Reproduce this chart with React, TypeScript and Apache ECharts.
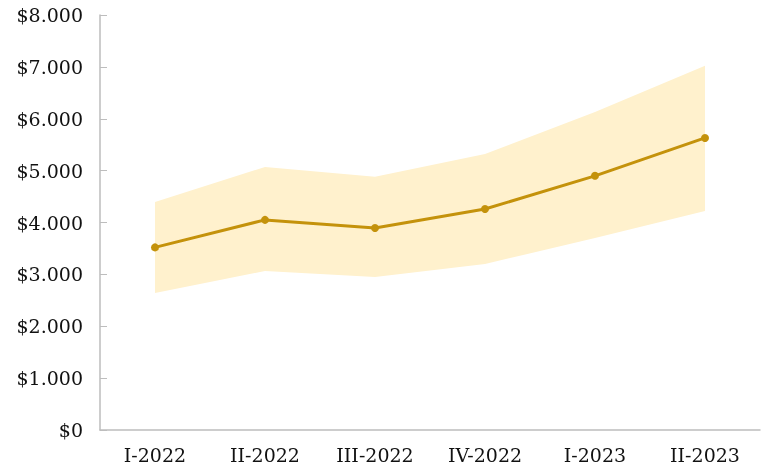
import React, { useEffect, useRef } from "react";
import * as echarts from "echarts";

const categories = ["I-2022", "II-2022", "III-2022", "IV-2022", "I-2023", "II-2023"];
const forecast = [3520, 4050, 3895, 4260, 4900, 5630];
const lowerBound = [2640, 3065, 2950, 3200, 3700, 4220];
const upperBound = [4395, 5070, 4880, 5320, 6130, 7020];

export default function App() {
  const ref = useRef<HTMLDivElement>(null);
  useEffect(() => {
    if (!ref.current) return;
    const chart = echarts.init(ref.current, null, { renderer: "svg" });
    const font = "DejaVu Serif";
    chart.setOption({
      animation: false,
      grid: { left: 100, right: 11, top: 15, bottom: 43 },
      xAxis: {
        type: "category",
        data: categories,
        boundaryGap: true,
        axisLine: { lineStyle: { color: "#bdbdbd", width: 1.5 } },
        axisTick: { inside: true, length: 8, lineStyle: { color: "#bdbdbd" } },
        axisLabel: { color: "#111", fontFamily: font, fontSize: 19, margin: 15 },
      },
      yAxis: {
        type: "value",
        min: 0,
        max: 8000,
        interval: 1000,
        splitLine: { show: false },
        axisLine: { show: true, lineStyle: { color: "#bdbdbd", width: 1.5 } },
        axisTick: { show: true, inside: true, length: 7, lineStyle: { color: "#bdbdbd" } },
        axisLabel: {
          color: "#111",
          fontFamily: font,
          fontSize: 19,
          margin: 17,
          formatter: (v: number) => "$" + (v === 0 ? "0" : (v / 1000).toFixed(0) + ".000"),
        },
      },
      series: [
        {
          type: "line",
          data: lowerBound,
          stack: "band",
          symbol: "none",
          lineStyle: { opacity: 0 },
          silent: true,
        },
        {
          type: "line",
          data: upperBound.map((u, i) => u - lowerBound[i]),
          stack: "band",
          symbol: "none",
          lineStyle: { opacity: 0 },
          areaStyle: { color: "#fff1cd", opacity: 1 },
          silent: true,
        },
        {
          type: "line",
          data: forecast,
          symbol: "circle",
          symbolSize: 8,
          itemStyle: { color: "#c4920b" },
          lineStyle: { color: "#c4920b", width: 3 },
        },
      ],
    });
    return () => chart.dispose();
  }, []);
  return (
    <div
      ref={ref}
      style={{ position: "fixed", left: 0, top: 0, width: 771, height: 473 }}
    />
  );
}
